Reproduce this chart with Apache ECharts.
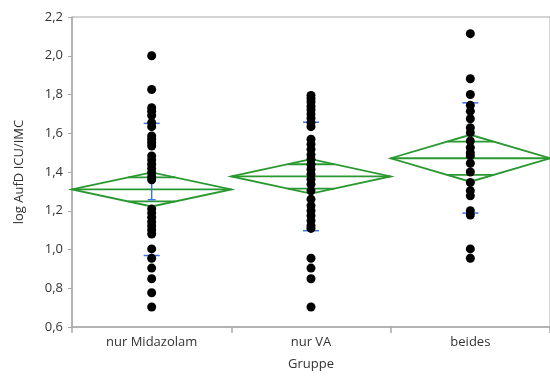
<!DOCTYPE html>
<html>
<head>
<meta charset="utf-8">
<script src="https://cdn.jsdelivr.net/npm/echarts@6/dist/echarts.min.js"></script>
<style>
  html, body { margin: 0; padding: 0; background: #fff; }
  #chart { width: 550px; height: 376px; }
</style>
</head>
<body>
<div id="chart"></div>
<script>
// Gruppen
var groups = ['nur Midazolam', 'nur VA', 'beides'];

// Einzelwerte je Gruppe (log AufD ICU/IMC)
var valsMidazolam = [2.0, 1.826, 1.732, 1.714, 1.692, 1.655, 1.634, 1.586, 1.569, 1.552, 1.534,
  1.483, 1.462, 1.44, 1.418, 1.397, 1.377, 1.36, 1.209, 1.188, 1.166, 1.143, 1.123, 1.102, 1.08,
  1.003, 0.955, 0.904, 0.849, 0.777, 0.703];
var valsVA = [1.795, 1.778, 1.761, 1.74, 1.72, 1.699, 1.678, 1.655, 1.634, 1.569, 1.543, 1.517,
  1.49, 1.466, 1.44, 1.414, 1.389, 1.363, 1.337, 1.303, 1.26, 1.226, 1.2, 1.174, 1.149, 1.123,
  1.109, 0.955, 0.904, 0.849, 0.703];
var valsBeides = [2.114, 1.881, 1.80, 1.744, 1.714, 1.675, 1.629, 1.603, 1.56, 1.526, 1.50, 1.483,
  1.445, 1.40, 1.346, 1.303, 1.277, 1.2, 1.178, 1.003, 0.955];

// Mittelwert-Rauten (Mittelwert, 95%-KI, Overlap-Marken)
var means   = [1.31, 1.377, 1.471];
var ciUpper = [1.398, 1.466, 1.592];
var ciLower = [1.222, 1.288, 1.35];
var ovUpper = [1.372, 1.44, 1.557];
var ovLower = [1.248, 1.314, 1.385];

// Standardabweichung und Standardfehler
var sdUpper = [1.651, 1.657, 1.757];
var sdLower = [0.969, 1.097, 1.188];
var seUpper = [1.363, 1.422, 1.531];
var seLower = [1.257, 1.332, 1.411];

var yTicks = { min: 0.6, max: 2.2, interval: 0.2 };

var points = [];
[valsMidazolam, valsVA, valsBeides].forEach(function (arr, i) {
  for (var k = 0; k < arr.length; k++) points.push([i, arr[k]]);
});

var diamondData = [];
var barData = [];
for (var i = 0; i < groups.length; i++) {
  diamondData.push([i, means[i], ciUpper[i], ciLower[i], ovUpper[i], ovLower[i]]);
  barData.push([i, means[i], sdUpper[i], sdLower[i], seUpper[i], seLower[i]]);
}

var green = '#2a9830';
var blue = '#3d73e6';

var myChart = echarts.init(document.getElementById('chart'));

var option = {
  animation: false,
  textStyle: { fontFamily: 'Open Sans', color: '#333' },
  grid: {
    show: true, left: 72, top: 17, width: 492, height: 311,
    borderColor: '#a8a8a8', borderWidth: 1, backgroundColor: '#fff'
  },
  xAxis: {
    type: 'category',
    data: groups,
    name: 'Gruppe',
    nameLocation: 'middle',
    nameGap: 31,
    nameTextStyle: { fontSize: 13, color: '#333' },
    axisLine: { lineStyle: { color: '#a8a8a8', width: 1.5 } },
    axisTick: { show: true, length: 6, lineStyle: { color: '#a8a8a8', width: 1.5 } },
    axisLabel: { fontSize: 13, color: '#333', margin: 9 },
    splitLine: { show: false }
  },
  yAxis: {
    type: 'value',
    min: yTicks.min,
    max: yTicks.max,
    interval: yTicks.interval,
    name: 'log AufD ICU/IMC',
    nameLocation: 'middle',
    nameGap: 46,
    nameTextStyle: { fontSize: 13, color: '#333' },
    axisLine: { show: true, lineStyle: { color: '#a8a8a8', width: 1.5 } },
    axisTick: { show: true, length: 4, lineStyle: { color: '#a8a8a8' } },
    axisLabel: {
      fontSize: 13, color: '#333', margin: 9,
      formatter: function (v) { return v.toFixed(1).replace('.', ','); }
    },
    splitLine: { show: false }
  },
  series: [
    {
      // Mittelwert-Rauten
      type: 'custom',
      z: 2,
      data: diamondData,
      renderItem: function (params, api) {
        var idx = api.value(0);
        var c = api.coord([idx, api.value(1)]);
        var top = api.coord([idx, api.value(2)])[1];
        var bot = api.coord([idx, api.value(3)])[1];
        var hw = api.size([1, 0])[0] / 2;
        var hh = c[1] - top;
        var style = { stroke: green, lineWidth: 1.8, fill: null };
        function ovLine(v) {
          var y = api.coord([idx, v])[1];
          var w = hw * (1 - Math.abs(y - c[1]) / hh);
          return { type: 'line', shape: { x1: c[0] - w, y1: y, x2: c[0] + w, y2: y }, style: style };
        }
        return {
          type: 'group',
          children: [
            { type: 'polygon', shape: { points: [[c[0] - hw, c[1]], [c[0], top], [c[0] + hw, c[1]], [c[0], bot]] }, style: style },
            { type: 'line', shape: { x1: c[0] - hw, y1: c[1], x2: c[0] + hw, y2: c[1] }, style: style },
            ovLine(api.value(4)),
            ovLine(api.value(5))
          ]
        };
      }
    },
    {
      // Std.-Abw. und Std.-Fehler
      type: 'custom',
      z: 3,
      data: barData,
      renderItem: function (params, api) {
        var idx = api.value(0);
        var x = api.coord([idx, api.value(1)])[0];
        var sdU = api.coord([idx, api.value(2)])[1];
        var sdL = api.coord([idx, api.value(3)])[1];
        var seU = api.coord([idx, api.value(4)])[1];
        var seL = api.coord([idx, api.value(5)])[1];
        var style = { stroke: blue, lineWidth: 1.5 };
        return {
          type: 'group',
          children: [
            { type: 'line', shape: { x1: x - 8, y1: sdU, x2: x + 8, y2: sdU }, style: style },
            { type: 'line', shape: { x1: x - 8, y1: sdL, x2: x + 8, y2: sdL }, style: style },
            { type: 'line', shape: { x1: x, y1: seU, x2: x, y2: seL }, style: style },
            { type: 'line', shape: { x1: x - 4, y1: seU, x2: x + 4, y2: seU }, style: style },
            { type: 'line', shape: { x1: x - 4, y1: seL, x2: x + 4, y2: seL }, style: style }
          ]
        };
      }
    },
    {
      type: 'scatter',
      z: 4,
      symbol: 'circle',
      symbolSize: 9,
      itemStyle: { color: '#000', opacity: 1 },
      data: points
    }
  ]
};

myChart.setOption(option);
</script>
</body>
</html>
